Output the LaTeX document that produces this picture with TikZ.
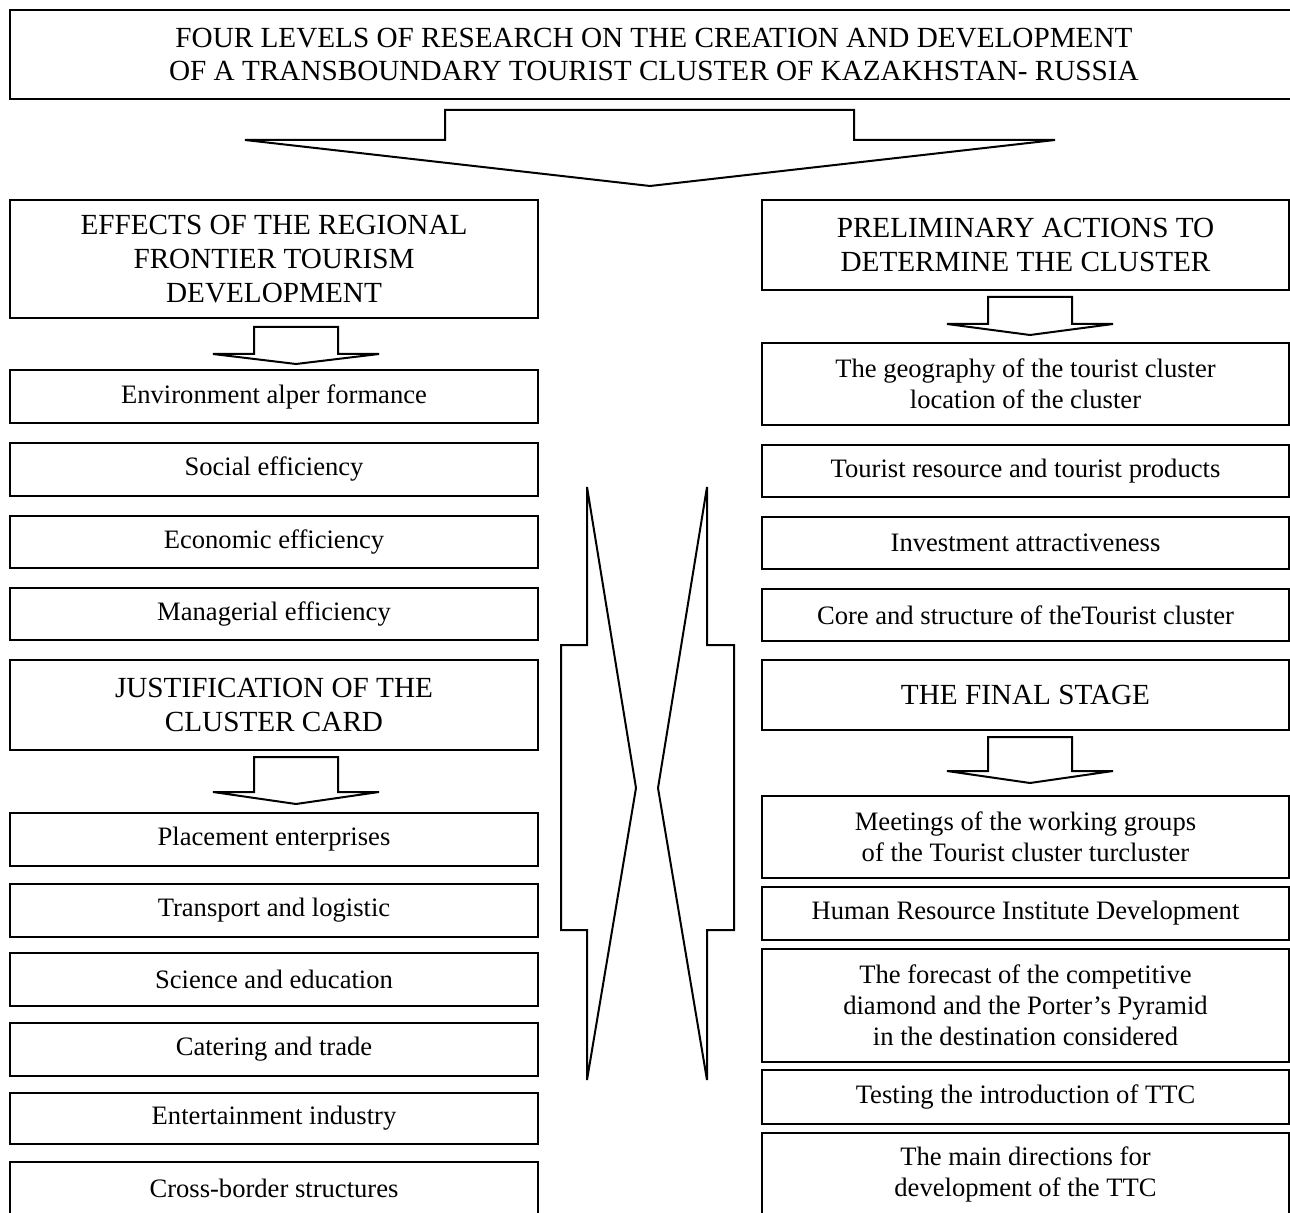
\documentclass[tikz,border=0pt]{standalone}
\usepackage{fontspec}
\setmainfont{Liberation Serif}
\begin{document}
\begin{tikzpicture}[x=0.5pt, y=-0.5pt]
	\tikzstyle{box} = [ draw, rectangle, line width=1pt, inner sep=0pt, align=center, font={\fontsize{13.3}{15.5}\selectfont} ];
	\tikzstyle{head} = [ box, font={\fontsize{14.6}{16.8}\selectfont} ];
	\tikzstyle{block} = [ draw, line width=1pt, line join=miter ];

	\useasboundingbox (0,0) rectangle (1290,1213);

	\node[head, minimum width=644pt, minimum height=44.5pt] (title) at (654,54.5)
		{FOUR LEVELS OF RESEARCH ON THE CREATION AND DEVELOPMENT\\OF A TRANSBOUNDARY TOURIST CLUSTER OF KAZAKHSTAN- RUSSIA};

	\draw[block] (445,110) -- (854,110) -- (854,140) -- (1055,140) -- (650,186) -- (245,140) -- (445,140) -- cycle;

	% left column
	\foreach \nm/\ytop/\ybot/\st/\txt in {
		effects/200/318/head/{EFFECTS OF THE REGIONAL\\FRONTIER TOURISM\\DEVELOPMENT},
		environment/370/423/box/{Environment alper formance},
		social/443/496/box/{Social efficiency},
		economic/516/568/box/{Economic efficiency},
		managerial/588/640/box/{Managerial efficiency},
		justification/660/750/head/{JUSTIFICATION OF THE\\CLUSTER CARD},
		placement/813/866/box/{Placement enterprises},
		transport/884/937/box/{Transport and logistic},
		science/953/1006/box/{Science and education},
		catering/1023/1076/box/{Catering and trade},
		entertainment/1093/1144/box/{Entertainment industry},
		crossborder/1162/1215/box/{Cross-border structures}} {
		\node[\st, minimum width=264pt, minimum height={(\ybot-\ytop)*0.5pt}] (\nm) at (274,{(\ytop+\ybot)/2}) {\txt};
	}

	% right column
	\foreach \nm/\ytop/\ybot/\st/\txt in {
		preliminary/200/290/head/{PRELIMINARY ACTIONS TO\\DETERMINE THE CLUSTER},
		geography/343/425/box/{The geography of the tourist cluster\\location of the cluster},
		resource/445/497/box/{Tourist resource and tourist products},
		investment/517/569/box/{Investment attractiveness},
		core/589/641/box/{Core and structure of theTourist cluster},
		final/660/730/head/{THE FINAL STAGE},
		meetings/796/878/box/{Meetings of the working groups\\of the Tourist cluster turcluster},
		human/887/940/box/{Human Resource Institute Development},
		forecast/949/1062/box/{The forecast of the competitive\\diamond and the Porter’s Pyramid\\in the destination considered},
		testing/1070/1124/box/{Testing the introduction of TTC},
		directions/1133/1215/box/{The main directions for\\development of the TTC}} {
		\node[\st, minimum width=263.5pt, minimum height={(\ybot-\ytop)*0.5pt}] (\nm) at (1025.5,{(\ytop+\ybot)/2}) {\txt};
	}

	\foreach \xm/\yt/\ys/\yp in {296/327/354/364, 296/757/792/804, 1030/297/324/335, 1030/737/771/783} {
		\draw[block] (\xm-42,\yt) -- (\xm+42,\yt) -- (\xm+42,\ys) -- (\xm+83,\ys) -- (\xm,\yp)
			-- (\xm-83,\ys) -- (\xm-42,\ys) -- cycle;
	}

	\draw[block] (587,487) -- (587,645) -- (561,645) -- (561,930) -- (587,930) -- (587,1080) -- (636,788) -- cycle;
	\draw[block] (707,487) -- (707,645) -- (734,645) -- (734,930) -- (707,930) -- (707,1080) -- (658,788) -- cycle;
\end{tikzpicture}
\end{document}
